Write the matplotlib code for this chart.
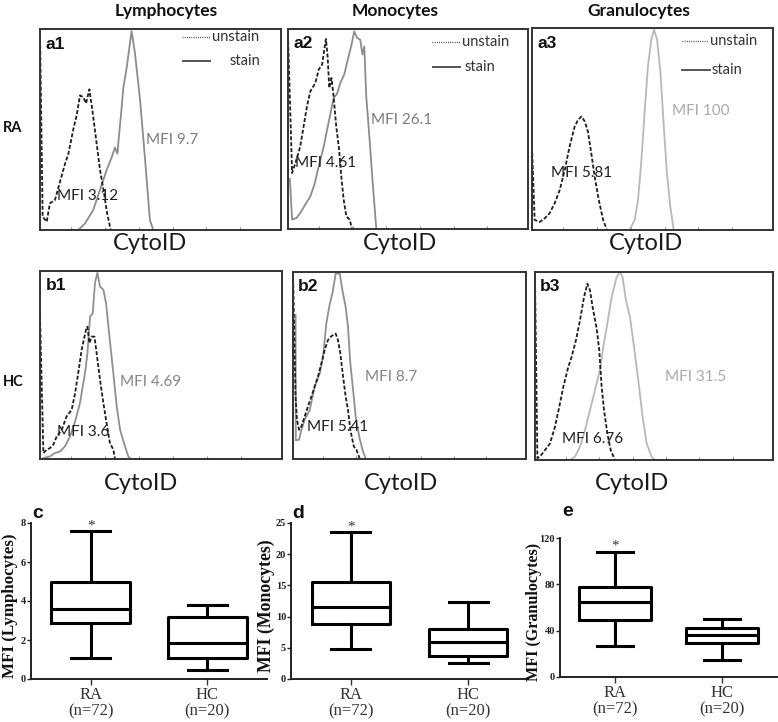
import matplotlib
matplotlib.use("Agg")
import matplotlib.pyplot as plt

# ---------------- data ----------------
cell_types = ["Lymphocytes", "Monocytes", "Granulocytes"]
row_groups = ["RA", "HC"]
axis_name = "CytoID"

# histogram traces (x: % of channel range, y: % of modal count)
a1_unstain_x = [0, 1.1, 2.8, 4.1, 6.2, 8.3, 10.4, 11.8, 13.8, 15.2, 16.6, 18.0, 19.1, 20.5, 21.9, 23.5, 24.9, 26.6, 27.9, 29.3]
a1_unstain_y = [98, 6.6, 4.1, 13.3, 14.9, 24, 33, 38, 50, 57, 67, 66, 63, 70, 58, 43, 30, 18, 8, 0.3]
a1_stain_x = [15.9, 18.7, 22.1, 24.9, 27.7, 29.7, 31.1, 32.1, 33.5, 34.6, 36.0, 38.0, 39.4, 41.5, 43.6, 45.6, 47.0]
a1_stain_y = [0, 3.3, 10, 20, 30, 36, 41, 38, 56, 71, 81, 99, 88, 65, 35, 5, 0]

a2_unstain_x = [0, 1.7, 3.1, 5.1, 6.5, 7.9, 9.3, 11.4, 12.8, 14.2, 15.8, 16.5, 17.2, 18.1, 19.0, 20.1, 21.3, 22.2, 23.2, 24.3, 25.7, 26.7]
a2_unstain_y = [97, 28, 33, 41.3, 51.3, 61.3, 68.8, 73, 79.7, 82.2, 95, 86.3, 70.5, 75.5, 66.3, 51.3, 39.7, 26.3, 14.7, 6.3, 4.7, 0]
a2_stain_x = [0.8, 1.7, 3.5, 5.1, 7.2, 9.3, 11.0, 12.8, 14.9, 16.3, 17.6, 19.0, 20.4, 21.8, 23.5, 24.9, 26.3, 27.6, 28.8, 30.1, 31.0, 31.8, 32.6, 34.0, 35.4, 36.8]
a2_stain_y = [25, 4.7, 5.5, 8, 12.2, 16.3, 22.2, 31.3, 41.3, 49.7, 57.2, 65.5, 67.5, 73, 77.5, 84.7, 91.3, 98.8, 95.5, 94.7, 87.2, 91.3, 66.3, 44.7, 21.3, 0]

a3_unstain_x = [0, 1.1, 3.2, 5.3, 7.3, 9.4, 11.5, 13.6, 15.6, 17.7, 19.1, 20.5, 21.9, 23.2, 24.6, 26.0, 27.7, 29.5, 31.1]
a3_unstain_y = [41, 5, 4, 5.8, 8.3, 13.2, 19.8, 29.8, 41.3, 51.2, 54.5, 56.2, 53.7, 48.8, 38, 26.4, 14.9, 5, 0]
a3_stain_x = [40.5, 42.6, 44.0, 45.4, 46.8, 48.1, 49.5, 50.6, 51.9, 53.3, 54.6, 56.0, 57.4, 58.8]
a3_stain_y = [0, 5, 14.9, 34.7, 59.5, 81, 94.2, 99.2, 94.2, 77.7, 52.9, 28.1, 11.6, 0]

b1_unstain_x = [0, 1.4, 2.8, 4.1, 5.5, 6.9, 9.0, 11.0, 13.1, 14.5, 15.8, 17.2, 19.0, 19.6, 20.4, 21.3, 22.5, 23.4, 24.8, 26.2, 27.5, 28.9, 30.3, 31.0]
b1_unstain_y = [76, 3.2, 5, 5.8, 7.6, 12, 15.6, 22.7, 26.2, 35, 45.7, 58, 68.7, 70.4, 61.6, 65.1, 65.1, 56.3, 42.1, 29.7, 19.1, 8.5, 5, 0]
b1_stain_x = [1.4, 4.1, 6.2, 8.3, 10.3, 12.4, 14.5, 16.5, 18.6, 19.6, 20.7, 21.8, 22.7, 23.7, 24.8, 26.2, 27.3, 28.7, 30.3, 31.7, 33.1, 34.7, 36.5, 37.5]
b1_stain_y = [0.5, 1.4, 3.2, 4, 6.7, 12, 20, 29.7, 45.7, 56.3, 75.8, 77.5, 93.5, 99.1, 91.7, 90, 82.8, 65.1, 45.7, 28, 15.6, 8.5, 1.4, 0]

b2_unstain_x = [0, 1.1, 1.7, 2.6, 3.6, 5.0, 6.4, 7.9, 9.3, 10.7, 12.2, 13.6, 15.0, 16.5, 18.3, 19.3, 20.3, 21.5, 22.6, 23.6, 24.6, 26.1, 27.2, 28.7]
b2_unstain_y = [100, 33.4, 21, 15.6, 17.4, 22.7, 28, 33.4, 38.7, 44, 51.2, 58.3, 63.6, 65.7, 67.1, 63.6, 56.5, 44, 33.4, 26.3, 15.6, 6.7, 5, 0]
b2_stain_x = [1.1, 1.2, 2.6, 3.6, 5.0, 7.2, 9.3, 11.5, 12.9, 14.3, 15.8, 16.9, 18.3, 20.1, 21.2, 22.6, 23.6, 24.6, 25.8, 26.9, 28.4, 29.8, 31.2]
b2_stain_y = [77, 10, 10.3, 15.6, 21, 26.3, 38.7, 45.8, 54.7, 72.5, 83.1, 88.5, 99.1, 99.1, 90.2, 81.3, 70.7, 51.2, 36.9, 22.7, 12.1, 5, 0]

b3_unstain_x = [0, 1.0, 2.1, 4.2, 6.3, 8.4, 10.2, 11.9, 14.0, 15.4, 17.2, 18.9, 20.6, 22.0, 23.1, 24.2, 25.9, 27.0, 28.0, 29.0, 30.4, 31.8, 33.6]
b3_unstain_y = [97, 1.0, 1.8, 5.3, 8.8, 17.7, 28.3, 38.9, 49.6, 54.9, 63.7, 74.3, 86.7, 93.8, 90.3, 81.4, 69.9, 58.4, 38.9, 26.5, 14.2, 5.3, 0]
b3_stain_x = [14.7, 16.8, 18.9, 21.0, 23.1, 25.2, 27.3, 28.7, 30.4, 32.2, 34.3, 35.7, 36.8, 38.2, 39.9, 41.6, 43.4, 45.2, 46.9, 49.0, 50.4]
b3_stain_y = [0, 1.8, 7.1, 15.9, 26.5, 37.2, 47.8, 60.2, 72.6, 86.7, 97.3, 100, 97.3, 85, 76.1, 60.2, 42.5, 23, 8.8, 1.8, 0]

mfi_unstain = ["3.12", "4.61", "5.81", "3.6", "5.41", "6.76"]
mfi_stain = ["9.7", "26.1", "100", "4.69", "8.7", "31.5"]
panel_tags = ["a1", "a2", "a3", "b1", "b2", "b3"]

# box plot summaries: whislo, q1, med, q3, whishi
groups = ["RA\n(n=72)", "HC\n(n=20)"]
lym_RA = [1.06, 2.89, 3.57, 4.96, 7.6]
lym_HC = [0.48, 1.07, 1.86, 3.19, 3.77]
mono_RA = [4.8, 8.8, 11.5, 15.5, 23.6]
mono_HC = [2.5, 3.7, 6.0, 8.05, 12.4]
gran_RA = [27, 49.5, 64.8, 77.5, 108]
gran_HC = [14.5, 29.3, 36.4, 42.6, 49.8]

# ---------------- figure ----------------
W, H = 778, 722
fig = plt.figure(figsize=(W / 100, H / 100), dpi=100)
SANS = ["Lato", "DejaVu Sans"]
SERIF = ["Liberation Serif", "DejaVu Serif"]


def add_px(l, t, r, b):
    return fig.add_axes([l / W, 1 - b / H, (r - l) / W, (b - t) / H])


hist_geom = [(40, 29, 281, 230), (288, 29, 528, 229), (532, 28, 773, 230),
             (40, 271, 282, 459), (293, 272, 526, 459), (535, 272, 773, 460)]
unstain_data = [(a1_unstain_x, a1_unstain_y), (a2_unstain_x, a2_unstain_y), (a3_unstain_x, a3_unstain_y),
                (b1_unstain_x, b1_unstain_y), (b2_unstain_x, b2_unstain_y), (b3_unstain_x, b3_unstain_y)]
stain_data = [(a1_stain_x, a1_stain_y), (a2_stain_x, a2_stain_y), (a3_stain_x, a3_stain_y),
              (b1_stain_x, b1_stain_y), (b2_stain_x, b2_stain_y), (b3_stain_x, b3_stain_y)]
stain_colors = ["#8c8c8c", "#8c8c8c", "#b8b8b8", "#909090", "#909090", "#b8b8b8"]
stain_text_colors = ["#7d7d7d", "#7d7d7d", "#aaaaaa", "#858585", "#858585", "#aaaaaa"]
stain_txt_pos = [(0.44, 0.45), (0.346, 0.545), (0.58, 0.59), (0.33, 0.41), (0.31, 0.44), (0.546, 0.44)]
unstain_txt_pos = [(0.07, 0.17), (0.03, 0.33), (0.08, 0.28), (0.07, 0.144), (0.06, 0.17), (0.113, 0.11)]
legend_geom = [  # (x0, x1, y_unstain, x_text_unstain, y_stain, x0s, x1s, x_text_stain)
    (0.589, 0.705, 0.96, 0.714, 0.84, 0.593, 0.705, 0.788),
    (0.600, 0.717, 0.935, 0.725, 0.81, 0.604, 0.717, 0.737),
    (0.622, 0.730, 0.936, 0.739, 0.792, 0.622, 0.739, 0.747),
]
xlabel_centers = [(150, 244), (400, 244), (646, 244), (141, 484), (401, 484), (632, 484)]

for i in range(6):
    ax = add_px(*hist_geom[i])
    ux, uy = unstain_data[i]
    sx, sy = stain_data[i]
    ax.plot(sx, sy, color=stain_colors[i], lw=1.3, solid_joinstyle="round")
    ax.plot(ux, uy, color="#1e1e1e", lw=1.3, ls=(0, (2.2, 1.1)))
    ax.set_xlim(0, 100)
    ax.set_ylim(0, 100)
    ax.set_xticks([13, 27, 41, 55, 69, 83])
    ax.tick_params(axis="x", direction="in", length=2, width=0.8, colors="#888888", labelbottom=False)
    ax.set_yticks([])
    for s in ax.spines.values():
        s.set_color("#333333")
        s.set_linewidth(1.4)
    ax.text(0.022, 0.925, panel_tags[i], transform=ax.transAxes, fontsize=12.5,
            fontweight="bold", family=["Liberation Sans", "DejaVu Sans"], va="center", ha="left", color="#111111")
    ax.text(stain_txt_pos[i][0], stain_txt_pos[i][1], "MFI " + mfi_stain[i], transform=ax.transAxes,
            fontsize=11, family=SANS, color=stain_text_colors[i], va="center", ha="left")
    ax.text(unstain_txt_pos[i][0], unstain_txt_pos[i][1], "MFI " + mfi_unstain[i], transform=ax.transAxes,
            fontsize=11, family=SANS, color="#202020", va="center", ha="left")
    if i < 3:
        g = legend_geom[i]
        ax.plot([g[0], g[1]], [g[2], g[2]], transform=ax.transAxes, color="#333333", lw=1.0, ls=(0, (0.6, 1.0)))
        ax.text(g[3], g[2], "unstain", transform=ax.transAxes, fontsize=10.5, family=SANS,
                color="#333333", va="center", ha="left")
        ax.plot([g[5], g[6]], [g[4], g[4]], transform=ax.transAxes, color="#555555", lw=1.4)
        ax.text(g[7], g[4], "stain", transform=ax.transAxes, fontsize=10.5, family=SANS,
                color="#333333", va="center", ha="left")
    cx, cy = xlabel_centers[i]
    fig.text(cx / W, 1 - cy / H, axis_name, fontsize=17, family=SANS, ha="center", va="center", color="#1a1a1a")

# column titles and row headers
for name, cx in zip(cell_types, [166, 395, 639]):
    fig.text(cx / W, 1 - 11 / H, name, fontsize=12.5, fontweight="bold", family=SANS,
             ha="center", va="center", color="#111111")
for name, cy in zip(row_groups, [128, 382]):
    fig.text(13 / W, 1 - cy / H, name, fontsize=10.5, fontweight="bold", family=SANS,
             ha="center", va="center", color="#111111")

# ---------------- box plots ----------------
box_geom = [(31, 523, 267, 679), (291, 523, 528, 679), (560, 538, 777, 677)]
box_data = [(lym_RA, lym_HC), (mono_RA, mono_HC), (gran_RA, gran_HC)]
ylims = [8, 25, 120]
yticks = [[0, 2, 4, 6, 8], [0, 5, 10, 15, 20, 25], [0, 40, 80, 120]]
ylabels = ["MFI (Lymphocytes)", "MFI (Monocytes)", "MFI (Granulocytes)"]
ylabel_x = [-0.055, -0.068, -0.083]
ylabel_size = [12.2, 12.8, 11.6]
star_y = [7.85, 24.3, 113]
letters = ["c", "d", "e"]
letter_pos = [(38, 513), (298, 513), (568, 512)]

for j in range(3):
    ax = add_px(*box_geom[j])
    stats = []
    for vals in box_data[j]:
        lo, q1, med, q3, hi = vals
        stats.append(dict(whislo=lo, q1=q1, med=med, q3=q3, whishi=hi, fliers=[]))
    lw = 2.2
    ax.bxp(stats, positions=[1, 2], widths=0.67, capwidths=0.33, showfliers=False,
           boxprops=dict(color="black", linewidth=lw),
           medianprops=dict(color="black", linewidth=lw),
           whiskerprops=dict(color="black", linewidth=lw),
           capprops=dict(color="black", linewidth=lw))
    ax.set_xlim(0.49, 2.51)
    ax.set_ylim(0, ylims[j])
    ax.set_yticks(yticks[j])
    ax.set_xticks([1, 2])
    ax.set_xticklabels(groups, fontsize=12, family=SERIF, color="#333333", linespacing=1.0)
    for lbl in ax.get_yticklabels():
        lbl.set_fontsize(7.5)
        lbl.set_family(SERIF)
        lbl.set_fontweight("bold")
    ax.tick_params(axis="y", length=3, width=1.0, pad=0.5, colors="#222222")
    ax.tick_params(axis="x", length=4, width=1.0, pad=2, colors="#333333")
    for side in ["top", "right"]:
        ax.spines[side].set_visible(False)
    for side in ["left", "bottom"]:
        ax.spines[side].set_linewidth(1.4)
        ax.spines[side].set_color("#222222")
    ax.set_ylabel(ylabels[j], fontsize=ylabel_size[j], fontweight="bold", family=SERIF, color="#111111")
    ax.yaxis.set_label_coords(ylabel_x[j], 0.47)
    ax.text(1, star_y[j], "*", fontsize=11, family=SERIF, ha="center", va="center", color="#333333")
    lx, ly = letter_pos[j]
    fig.text(lx / W, 1 - ly / H, letters[j], fontsize=14, fontweight="bold",
             family=["Liberation Sans", "DejaVu Sans"], ha="center", va="center", color="#111111")

fig.savefig("out.png", dpi=100, facecolor="white")
